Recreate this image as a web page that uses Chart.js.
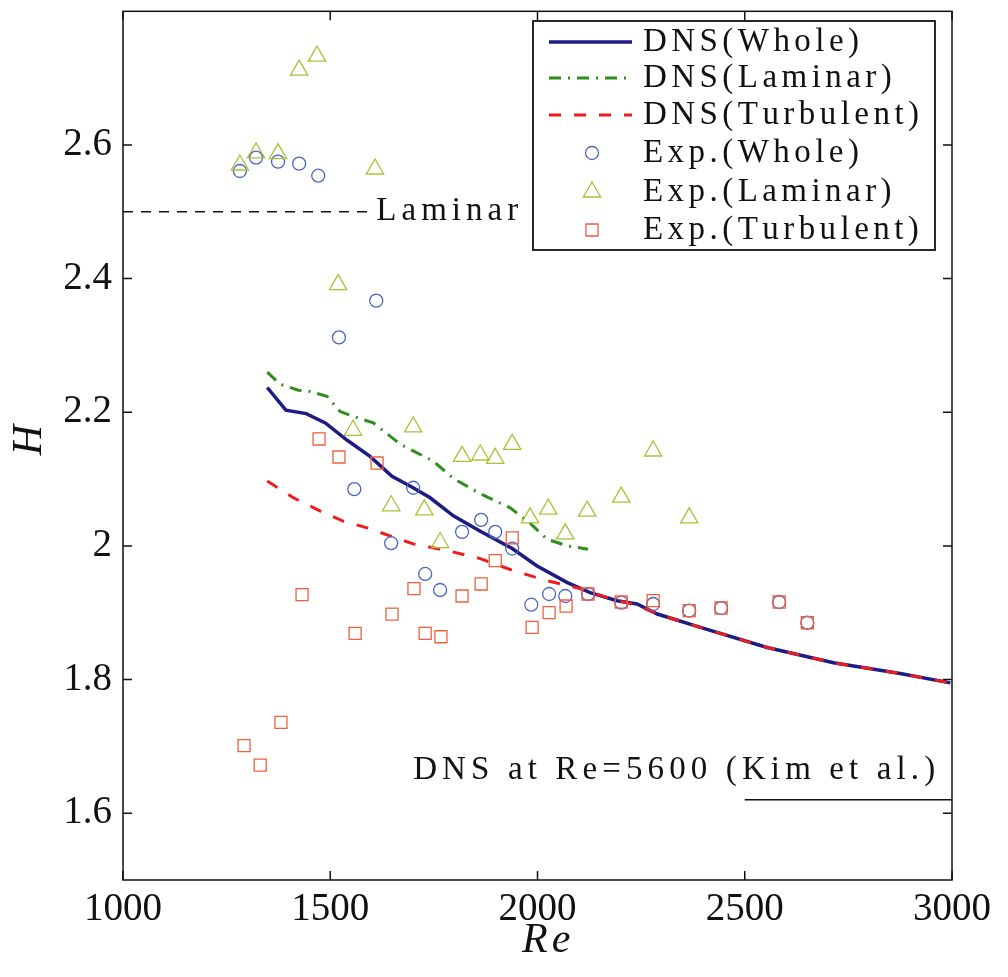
<!DOCTYPE html>
<html>
<head>
<meta charset="utf-8">
<script src="https://cdn.jsdelivr.net/npm/chart.js@4.4.1/dist/chart.umd.min.js"></script>
<style>
  body { margin: 0; background: #fff; }
  #wrap { width: 1008px; height: 977px; }
</style>
</head>
<body>
<div id="wrap"><canvas id="myChart"></canvas></div>
<script>
// DNS curves
var reWhole = [1348, 1393, 1442, 1488, 1541, 1596, 1649, 1700, 1741, 1797, 1862, 1939, 1999, 2072, 2127, 2192, 2240, 2289, 2393, 2554, 2714, 2875, 2996];
var hWhole = [2.237, 2.203, 2.198, 2.184, 2.158, 2.134, 2.104, 2.087, 2.072, 2.045, 2.022, 1.996, 1.970, 1.945, 1.930, 1.918, 1.913, 1.898, 1.878, 1.848, 1.825, 1.809, 1.795];

var reLam = [1348, 1379, 1423, 1451, 1492, 1524, 1555, 1604, 1669, 1748, 1797, 1862, 1934, 1982, 2023, 2072, 2122];
var hLam = [2.260, 2.242, 2.233, 2.231, 2.224, 2.201, 2.194, 2.184, 2.152, 2.127, 2.101, 2.078, 2.057, 2.034, 2.010, 2.000, 1.995];

var reTurb = [1348, 1411, 1476, 1531, 1589, 1644, 1700, 1782, 1862, 1941, 2023, 2103, 2175, 2240, 2289, 2393, 2554, 2714, 2875, 2996];
var hTurb = [2.097, 2.072, 2.052, 2.037, 2.027, 2.015, 2.003, 1.993, 1.981, 1.963, 1.948, 1.936, 1.921, 1.911, 1.898, 1.878, 1.848, 1.825, 1.809, 1.795];

// experiments
var reExpWhole = [1282, 1321, 1374, 1425, 1471, 1611, 1521, 1558, 1647, 1700, 1729, 1765, 1818, 1864, 1898, 1939, 1985, 2028, 2067, 2122, 2202, 2279, 2366, 2443, 2583, 2651];
var hExpWhole = [2.561, 2.581, 2.575, 2.572, 2.554, 2.367, 2.312, 2.085, 2.004, 2.087, 1.958, 1.934, 2.021, 2.039, 2.021, 1.996, 1.912, 1.928, 1.925, 1.928, 1.915, 1.913, 1.903, 1.907, 1.916, 1.885];

var reExpLam = [1282, 1321, 1374, 1425, 1468, 1608, 1519, 1555, 1647, 1700, 1727, 1765, 1818, 1862, 1898, 1939, 1982, 2026, 2067, 2120, 2202, 2279, 2366];
var hExpLam = [2.570, 2.588, 2.587, 2.712, 2.733, 2.564, 2.391, 2.173, 2.060, 2.178, 2.054, 2.005, 2.134, 2.136, 2.131, 2.152, 2.042, 2.055, 2.018, 2.052, 2.073, 2.142, 2.042];

var reExpTurb = [1292, 1331, 1381, 1432, 1473, 1521, 1560, 1613, 1649, 1702, 1729, 1767, 1818, 1864, 1898, 1939, 1987, 2028, 2069, 2122, 2202, 2279, 2366, 2443, 2583, 2651];
var hExpTurb = [1.701, 1.672, 1.736, 1.927, 2.160, 2.133, 1.869, 2.124, 1.898, 1.936, 1.869, 1.864, 1.925, 1.943, 1.978, 2.012, 1.878, 1.900, 1.910, 1.928, 1.916, 1.918, 1.903, 1.907, 1.916, 1.885];

// reference levels
var laminarRe = [1000, 1596];
var laminarH = [2.5, 2.5];
var kimRe = [2500, 3000];
var kimH = [1.62, 1.62];

var xTicks = [1000, 1500, 2000, 2500, 3000];
var yTicks = [1.6, 1.8, 2.0, 2.2, 2.4, 2.6];

function pts(xs, ys) {
    return xs.map(function (x, i) { return { x: x, y: ys[i] }; });
}

var SERIF = "'Liberation Serif', 'Times New Roman', 'DejaVu Serif', serif";

var legendItems = [
    { text: "DNS(Whole)", kind: "line", color: "#1c1c84", dash: [], width: 3.5 },
    { text: "DNS(Laminar)", kind: "line", color: "#2f8f1c", dash: [12, 7, 2, 7], width: 3 },
    { text: "DNS(Turbulent)", kind: "line", color: "#ee1c1c", dash: [12, 13], width: 3 },
    { text: "Exp.(Whole)", kind: "circle", color: "#4a64c4" },
    { text: "Exp.(Laminar)", kind: "triangle", color: "#a9c23a" },
    { text: "Exp.(Turbulent)", kind: "rect", color: "#f0603e" }
];

// draw text with letter spacing
function spacedText(ctx, txt, x, y, spacing) {
    var cx = x;
    for (var i = 0; i < txt.length; i++) {
        ctx.fillText(txt[i], cx, y);
        cx += ctx.measureText(txt[i]).width + spacing;
    }
}
// spacing so that txt spans width px
function fitSpacing(ctx, txt, width) {
    var w = 0;
    for (var i = 0; i < txt.length; i++) w += ctx.measureText(txt[i]).width;
    return (width - w) / (txt.length - 1);
}

var decor = {
    id: "decor",
    afterDatasetsDraw: function (chart) {
        var ctx = chart.ctx;
        var a = chart.chartArea;
        var xs = chart.scales.x, ys = chart.scales.y;
        ctx.save();
        // frame
        ctx.strokeStyle = "#111";
        ctx.lineWidth = 1.5;
        ctx.setLineDash([]);
        ctx.strokeRect(a.left, a.top, a.right - a.left, a.bottom - a.top);
        // inward ticks
        ctx.beginPath();
        xTicks.forEach(function (v) {
            var px = xs.getPixelForValue(v);
            ctx.moveTo(px, a.bottom); ctx.lineTo(px, a.bottom - 9);
            ctx.moveTo(px, a.top); ctx.lineTo(px, a.top + 9);
        });
        yTicks.forEach(function (v) {
            var py = ys.getPixelForValue(v);
            ctx.moveTo(a.left, py); ctx.lineTo(a.left + 9, py);
            ctx.moveTo(a.right, py); ctx.lineTo(a.right - 9, py);
        });
        ctx.stroke();

        // annotation texts
        ctx.fillStyle = "#111";
        ctx.textBaseline = "middle";
        ctx.textAlign = "left";
        ctx.font = "33px " + SERIF;
        spacedText(ctx, "Laminar", xs.getPixelForValue(1611), ys.getPixelForValue(2.5),
            fitSpacing(ctx, "Laminar", 142));
        var kim = "DNS at Re=5600 (Kim et al.)";
        spacedText(ctx, kim, xs.getPixelForValue(1700), ys.getPixelForValue(1.664),
            fitSpacing(ctx, kim, 522));

        // legend box
        var bx = 533, by = 21, bw = 402, bh = 229;
        ctx.fillStyle = "#fff";
        ctx.fillRect(bx, by, bw, bh);
        ctx.strokeStyle = "#111";
        ctx.lineWidth = 1.8;
        ctx.strokeRect(bx, by, bw, bh);
        var rows = [42, 78, 115, 153, 192, 230];
        ctx.font = "33px " + SERIF;
        var lsp = fitSpacing(ctx, "DNS(Turbulent)", 276);
        legendItems.forEach(function (it, i) {
            var y = rows[i];
            ctx.save();
            ctx.strokeStyle = it.color;
            ctx.fillStyle = "rgba(0,0,0,0)";
            if (it.kind === "line") {
                ctx.lineWidth = it.width;
                ctx.setLineDash(it.dash);
                ctx.beginPath();
                ctx.moveTo(549, y); ctx.lineTo(632, y);
                ctx.stroke();
            } else {
                ctx.lineWidth = 1.3;
                Chart.helpers.drawPoint(ctx, {
                    pointStyle: it.kind,
                    radius: it.kind === "circle" ? 6.5 : (it.kind === "triangle" ? 10 : 8.5),
                    borderWidth: 1.3
                }, 592, y);
            }
            ctx.restore();
            ctx.fillStyle = "#111";
            ctx.font = "33px " + SERIF;
            ctx.textBaseline = "middle";
            ctx.textAlign = "left";
            spacedText(ctx, it.text, 643, y, lsp);
        });

        // axis titles
        ctx.fillStyle = "#111";
        ctx.font = "italic 42px " + SERIF;
        ctx.textAlign = "center";
        ctx.textBaseline = "middle";
        ctx.save();
        ctx.translate(30, 440);
        ctx.rotate(-Math.PI / 2);
        ctx.fillText("H", 0, 0);
        ctx.restore();
        ctx.textAlign = "left";
        ctx.textBaseline = "alphabetic";
        spacedText(ctx, "Re", 522, 952, 4);
        ctx.restore();
    }
};

// Chart.js paints the last dataset first, so the top layer comes first here
new Chart("myChart", {
    type: "scatter",
    data: {
        datasets: [
            {
                label: "Exp.(Turbulent)", data: pts(reExpTurb, hExpTurb),
                pointStyle: "rect", pointRadius: 8.5, borderColor: "#f0603e",
                backgroundColor: "rgba(0,0,0,0)", borderWidth: 1.3
            },
            {
                label: "Exp.(Laminar)", data: pts(reExpLam, hExpLam),
                pointStyle: "triangle", pointRadius: 10, borderColor: "#a9c23a",
                backgroundColor: "rgba(0,0,0,0)", borderWidth: 1.3
            },
            {
                label: "Exp.(Whole)", data: pts(reExpWhole, hExpWhole),
                pointStyle: "circle", pointRadius: 6.5, borderColor: "#4a64c4",
                backgroundColor: "rgba(0,0,0,0)", borderWidth: 1.3
            },
            {
                label: "DNS(Turbulent)", data: pts(reTurb, hTurb), showLine: true,
                borderColor: "#ee1c1c", borderWidth: 3, borderDash: [12, 13], pointRadius: 0
            },
            {
                label: "DNS(Laminar)", data: pts(reLam, hLam), showLine: true,
                borderColor: "#2f8f1c", borderWidth: 3, borderDash: [12, 7, 2, 7], pointRadius: 0
            },
            {
                label: "DNS(Whole)", data: pts(reWhole, hWhole), showLine: true,
                borderColor: "#1c1c84", borderWidth: 3.5, pointRadius: 0, tension: 0
            },
            {
                label: "laminar level", data: pts(laminarRe, laminarH), showLine: true,
                borderColor: "#111", borderWidth: 1.3, borderDash: [10, 8], pointRadius: 0
            },
            {
                label: "Kim level", data: pts(kimRe, kimH), showLine: true,
                borderColor: "#111", borderWidth: 1.5, pointRadius: 0
            }
        ]
    },
    options: {
        responsive: true,
        maintainAspectRatio: false,
        animation: false,
        layout: { padding: { left: 0, top: 9, right: 56, bottom: 0 } },
        plugins: {
            legend: { display: false },
            tooltip: { enabled: false }
        },
        scales: {
            x: {
                type: "linear", min: 1000, max: 3000,
                grid: { display: false, drawTicks: false }, border: { display: false },
                afterBuildTicks: function (s) { s.ticks = xTicks.map(function (v) { return { value: v }; }); },
                afterFit: function (s) { s.height = 97; s.paddingLeft = 0; s.paddingRight = 0; },
                ticks: {
                    color: "#111", padding: 6, maxRotation: 0,
                    font: { family: SERIF, size: 39 },
                    callback: function (v) { return String(v); }
                }
            },
            y: {
                type: "linear", min: 1.5, max: 2.8,
                grid: { display: false, drawTicks: false }, border: { display: false },
                afterBuildTicks: function (s) { s.ticks = yTicks.map(function (v) { return { value: v }; }); },
                afterFit: function (s) { s.width = 123; s.paddingTop = 0; s.paddingBottom = 0; },
                ticks: {
                    color: "#111", padding: 11,
                    font: { family: SERIF, size: 39 },
                    callback: function (v) { return String(Math.round(v * 10) / 10); }
                }
            }
        }
    },
    plugins: [decor]
});
</script>
</body>
</html>
